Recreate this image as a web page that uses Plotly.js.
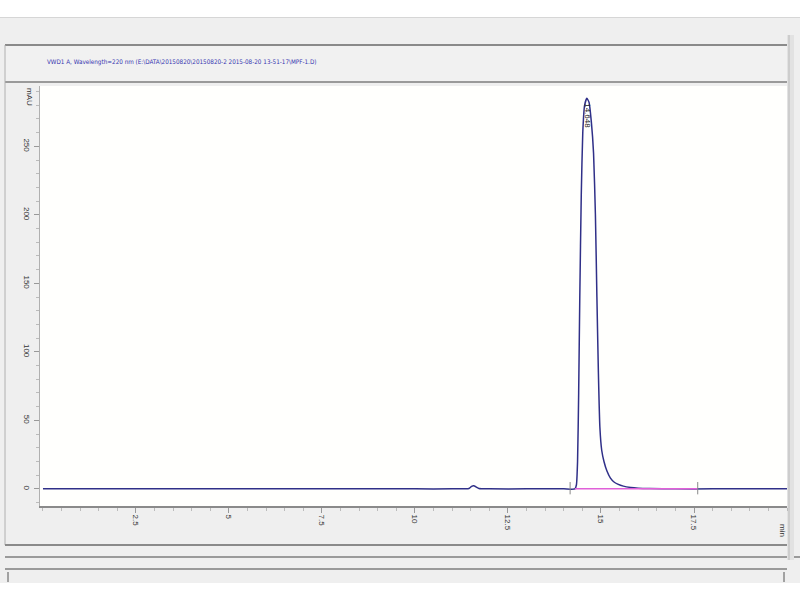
<!DOCTYPE html>
<html>
<head>
<meta charset="utf-8">
<script src="https://cdn.plot.ly/plotly-3.0.1.min.js"></script>
<style>html,body{margin:0;padding:0;background:#fff;}#chart{width:800px;height:600px;}</style>
</head>
<body>
<div id="chart"></div>
<script>
// ---- data ----
const timeMin = [0, 1, 2, 3, 4, 5, 6, 7, 8, 9, 10, 11, 11.45, 11.52, 11.58, 11.64, 11.72, 12, 13, 14,
  14.30, 14.34, 14.37, 14.40, 14.43, 14.47, 14.51, 14.56, 14.62, 14.68, 14.74, 14.80, 14.85, 14.89, 14.93,
  14.97, 15.02, 15.08, 15.16, 15.25, 15.35, 15.45, 15.6, 15.8, 16.0, 16.3, 17, 18, 19, 20];
const absorbance = [0, 0, 0, 0, 0, 0, 0, 0, 0, 0, 0, 0, 0.3, 1.8, 2.2, 1.5, 0.3, 0, 0, 0,
  0, 3, 20, 70, 140, 215, 260, 280, 285, 282, 268, 245, 200, 140, 85,
  45, 28, 20, 13, 8, 5, 3.5, 2, 1, 0.5, 0.2, 0, 0, 0, 0];
const integrationEvents = [14.17, 17.6];
const baselineTimes = [14.3, 17.6];
const baselineValues = [0, 0];
const peakTime = [14.65];
const peakLabelLevel = [272];
const peakLabels = ["14.648"];
const xTickVals = [2.5, 5, 7.5, 10, 12.5, 15, 17.5];
const xTickText = ["2.5", "5", "7.5", "10", "12.5", "15", "17.5"];
const yTickVals = [0, 50, 100, 150, 200, 250];
const yTickText = ["0", "50", "100", "150", "200", "250"];
const signalTitle = "VWD1 A, Wavelength=220 nm (E:\\DATA\\20150820\\20150820-2 2015-08-20 13-51-17\\MPF-1.D)";

// ---- pixel helpers for the window chrome ----
const L = 40, R = 13, T = 86, B = 94, W = 800, H = 600;
const pw = W - L - R, ph = H - T - B;
const px = X => (X - L) / pw;
const py = Y => (H - B - Y) / ph;

const evX = [], evY = [];
integrationEvents.forEach(t => { evX.push(t, t, null); evY.push(-4, 5, null); });

const traces = [
  { x: timeMin, y: absorbance, type: 'scatter', mode: 'lines',
    line: { color: '#303088', width: 1.5, shape: 'spline', smoothing: 0.5 }, hoverinfo: 'skip' },
  { x: baselineTimes, y: baselineValues, type: 'scatter', mode: 'lines',
    line: { color: '#e060d8', width: 1.5 }, hoverinfo: 'skip' },
  { x: evX, y: evY, type: 'scatter', mode: 'lines',
    line: { color: '#888', width: 1 }, hoverinfo: 'skip' }
];

const lineShape = (x0, y0, x1, y1, color, width) => ({
  type: 'line', xref: 'paper', yref: 'paper', x0: px(x0), y0: py(y0), x1: px(x1), y1: py(y1),
  line: { color: color, width: width }, layer: 'below' });
const rectShape = (x0, y0, x1, y1, fill, lc, lw) => ({
  type: 'rect', xref: 'paper', yref: 'paper', x0: px(x0), y0: py(y0), x1: px(x1), y1: py(y1),
  fillcolor: fill, line: { color: lc || fill, width: lw || 0 }, layer: 'below' });

const shapes = [
  rectShape(0, 0, 800, 17, '#ffffff'),
  rectShape(0, 583, 800, 600, '#ffffff'),
  lineShape(0, 17.5, 800, 17.5, '#d6d6d6', 1),
  rectShape(5, 45, 787, 82, '#f1f1f1'),
  lineShape(5, 45, 787, 45, '#8a8a8a', 2),
  lineShape(5, 82, 787, 82, '#9a9a9a', 2),
  lineShape(5, 45, 5, 545, '#b0b0b0', 1),
  lineShape(5, 545, 787, 545, '#8a8a8a', 2),
  lineShape(5, 557, 800, 557, '#9a9a9a', 2),
  lineShape(5, 569, 787, 569, '#9a9a9a', 2),
  rectShape(787, 35, 794, 560, '#e2e2e2'),
  lineShape(789, 35, 789, 560, '#b8b8b8', 1),
  lineShape(8, 572, 8, 582, '#555', 1),
  lineShape(784, 572, 784, 582, '#555', 1)
];

const annotations = [
  { xref: 'paper', yref: 'paper', x: px(45), y: py(62), xanchor: 'left', yanchor: 'middle',
    text: signalTitle, showarrow: false,
    font: { family: 'Liberation Sans Narrow, DejaVu Sans Condensed, sans-serif', size: 6.3, color: '#3434b0' } },
  { xref: 'paper', yref: 'paper', x: px(30), y: py(97), xanchor: 'center', yanchor: 'middle',
    text: 'mAU', textangle: 90, showarrow: false,
    font: { family: 'Liberation Sans Narrow, sans-serif', size: 8, color: '#333' } },
  { xref: 'paper', yref: 'paper', x: px(783), y: py(530), xanchor: 'center', yanchor: 'middle',
    text: 'min', textangle: 90, showarrow: false,
    font: { family: 'Liberation Sans Narrow, sans-serif', size: 8, color: '#333' } }
];
peakTime.forEach((t, i) => annotations.push({
  x: t, y: peakLabelLevel[i], xref: 'x', yref: 'y', text: peakLabels[i], textangle: 90,
  showarrow: false, xanchor: 'center', yanchor: 'middle',
  font: { family: 'Liberation Sans Narrow, sans-serif', size: 8, color: '#222' } }));

const layout = {
  width: W, height: H,
  margin: { l: L, r: R, t: T, b: B, pad: 0 },
  paper_bgcolor: '#efefef', plot_bgcolor: '#fffffd',
  showlegend: false,
  xaxis: { range: [-0.08, 20.0], tickvals: xTickVals, ticktext: xTickText, tickangle: 90,
    ticks: 'outside', ticklen: 5, tickcolor: '#999', showgrid: false, zeroline: false,
    showline: true, linecolor: '#8a8a8a', linewidth: 2,
    minor: { dtick: 0.5, ticks: 'outside', ticklen: 3, tickcolor: '#bbb' },
    tickfont: { family: 'Liberation Sans Narrow, sans-serif', size: 8, color: '#333' } },
  yaxis: { range: [-12.5, 294], tickvals: yTickVals, ticktext: yTickText, tickangle: 90,
    ticks: 'outside', ticklen: 5, tickcolor: '#999', showgrid: false, zeroline: false,
    showline: true, linecolor: '#b0b0b0', linewidth: 1,
    minor: { dtick: 10, ticks: 'outside', ticklen: 3, tickcolor: '#bbb' },
    tickfont: { family: 'Liberation Sans Narrow, sans-serif', size: 8, color: '#333' } },
  shapes: shapes,
  annotations: annotations
};

Plotly.newPlot('chart', traces, layout, { staticPlot: true, displayModeBar: false });
</script>
</body>
</html>
